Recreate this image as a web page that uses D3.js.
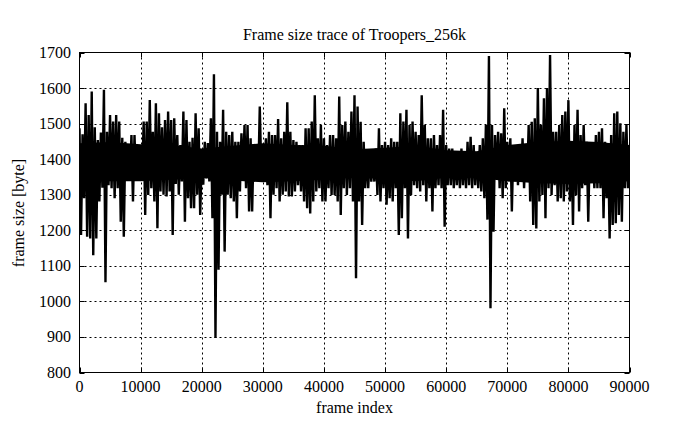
<!DOCTYPE html>
<html>
<head>
<meta charset="utf-8">
<script src="https://cdn.jsdelivr.net/npm/d3@7"></script>
<style>
  html, body { margin: 0; padding: 0; background: #fff; }
  svg { display: block; }
  text { font-family: "Liberation Serif", "DejaVu Serif", serif; fill: #000; }
</style>
</head>
<body>
<svg id="chart" width="695" height="426"></svg>
<script>
// ---- data ----
const title = "Frame size trace of Troopers_256k";
const xLabel = "frame index";
const yLabel = "frame size [byte]";
const xTicks = [0, 10000, 20000, 30000, 40000, 50000, 60000, 70000, 80000, 90000];
const yTicks = [800, 900, 1000, 1100, 1200, 1300, 1400, 1500, 1600, 1700];
const sampleStep = 500; // frames between consecutive envelope samples
// upper envelope of frame size (bytes) per 500-frame sample
const peakHigh = [
  1487,1470,1557,1524,1590,1490,1454,1475,1595,1477,1524,1506,1524,1506,1460,1449,1421,1468,1468,1421,
  1440,1506,1506,1566,1477,1557,1529,1490,1510,1534,1510,1515,1468,1440,1534,1510,1449,1460,1529,1487,
  1400,1449,1445,1515,1639,1477,1449,1539,1477,1468,1477,1449,1449,1473,1496,1496,1459,1440,1400,1548,
  1421,1459,1477,1468,1468,1513,1459,1477,1560,1477,1454,1449,1440,1440,1487,1487,1506,1580,1459,1496,
  1459,1440,1468,1468,1459,1576,1496,1506,1477,1534,1580,1548,1505,1449,1421,1421,1402,1430,1487,1440,
  1449,1440,1459,1449,1449,1529,1506,1539,1496,1506,1477,1468,1580,1496,1459,1459,1468,1440,1468,1539,
  1440,1430,1430,1421,1421,1430,1421,1449,1463,1440,1421,1440,1459,1496,1690,1496,1468,1477,1473,1543,
  1449,1459,1440,1440,1421,1459,1440,1496,1505,1515,1600,1496,1571,1600,1693,1477,1477,1496,1524,1534,
  1566,1449,1496,1539,1468,1496,1449,1430,1421,1468,1477,1487,1449,1440,1468,1529,1534,1501,1477,1496,
  1421
];
// lower envelope of frame size (bytes) per 500-frame sample
const peakLow = [
  1187,1290,1182,1177,1130,1177,1281,1320,1054,1327,1318,1290,1318,1224,1182,1346,1346,1281,1340,1346,
  1346,1243,1299,1318,1281,1206,1309,1300,1295,1309,1187,1330,1300,1337,1224,1290,1262,1262,1300,1243,
  1328,1346,1337,1234,897,1089,1300,1140,1300,1290,1281,1234,1309,1346,1318,1253,1253,1346,1346,1364,
  1355,1327,1234,1300,1318,1281,1300,1309,1295,1295,1309,1327,1309,1281,1262,1247,1281,1309,1318,1281,
  1281,1318,1299,1299,1281,1243,1318,1299,1318,1281,1065,1281,1215,1318,1318,1337,1337,1299,1281,1318,
  1272,1290,1281,1318,1187,1234,1318,1177,1299,1327,1318,1309,1327,1281,1318,1253,1318,1327,1318,1210,
  1327,1327,1318,1327,1318,1327,1318,1327,1318,1327,1318,1309,1290,1230,981,1196,1346,1318,1290,1318,
  1337,1253,1337,1327,1346,1318,1337,1281,1215,1205,1281,1299,1234,1318,1299,1327,1281,1290,1281,1309,
  1281,1215,1299,1253,1318,1327,1224,1337,1318,1318,1318,1234,1290,1177,1215,1220,1243,1224,1318,1318,
  1370
];
// dense core band of the trace (bytes), per 5000 frames
const coreStep = 5000;
const coreHigh = [1445,1448,1442,1440,1430,1438,1445,1440,1438,1428,1432,1438,1425,1422,1440,1448,1452,1448,1440];
const coreLow  = [1335,1338,1338,1342,1348,1340,1335,1338,1342,1348,1345,1338,1348,1348,1338,1332,1330,1332,1338];

// ---- layout ----
const svg = d3.select("#chart");
const x = d3.scaleLinear().domain([0, 90000]).range([79.5, 629.5]);
const y = d3.scaleLinear().domain([800, 1700]).range([372.5, 52.5]);
const [x0, x1] = x.range();
const [y0, y1] = y.range();
const FS = 16;

// grid
const grid = svg.append("g").attr("stroke", "#000").attr("stroke-width", 1)
  .attr("stroke-dasharray", "2,3").attr("fill", "none");
xTicks.slice(1, -1).forEach(t => {
  grid.append("line").attr("x1", Math.round(x(t)) + 0.5).attr("x2", Math.round(x(t)) + 0.5)
    .attr("y1", y1).attr("y2", y0);
});
yTicks.slice(1, -1).forEach(t => {
  grid.append("line").attr("y1", Math.round(y(t)) + 0.5).attr("y2", Math.round(y(t)) + 0.5)
    .attr("x1", x0).attr("x2", x1);
});

svg.append("clipPath").attr("id", "clip").append("rect")
  .attr("x", x0).attr("y", y1).attr("width", x1 - x0).attr("height", y0 - y1);

// core band
svg.append("path")
  .attr("clip-path", "url(#clip)")
  .attr("d", d3.area()
    .x((d, i) => x(i * coreStep))
    .y0((d, i) => y(coreLow[i]))
    .y1(d => y(d))(coreHigh))
  .attr("fill", "#000");

// trace
const pts = [];
peakHigh.forEach((h, i) => {
  pts.push([i * sampleStep, h]);
  if (i < peakLow.length) pts.push([i * sampleStep + sampleStep / 2, peakLow[i]]);
});
svg.append("path")
  .attr("clip-path", "url(#clip)")
  .attr("d", d3.line().x(d => x(Math.min(d[0], 90000))).y(d => y(d[1]))(pts))
  .attr("fill", "none").attr("stroke", "#000").attr("stroke-width", 2.4)
  .attr("stroke-linejoin", "miter").attr("stroke-miterlimit", 2);

// border
svg.append("rect").attr("x", x0).attr("y", y1).attr("width", x1 - x0).attr("height", y0 - y1)
  .attr("fill", "none").attr("stroke", "#000").attr("stroke-width", 1);

// axes with inward ticks (mirrored)
const tickLen = 5;
const ax = svg.append("g").attr("stroke", "#000").attr("stroke-width", 1);
xTicks.forEach(t => {
  const px = Math.round(x(t)) + 0.5;
  ax.append("line").attr("x1", px).attr("x2", px).attr("y1", y0).attr("y2", y0 - tickLen);
  ax.append("line").attr("x1", px).attr("x2", px).attr("y1", y1).attr("y2", y1 + tickLen);
});
yTicks.forEach(t => {
  const py = Math.round(y(t)) + 0.5;
  ax.append("line").attr("y1", py).attr("y2", py).attr("x1", x0).attr("x2", x0 + tickLen);
  ax.append("line").attr("y1", py).attr("y2", py).attr("x1", x1).attr("x2", x1 - tickLen);
});

// tick labels
svg.append("g").selectAll("text").data(xTicks).join("text")
  .attr("x", d => x(d)).attr("y", 392)
  .attr("text-anchor", "middle").attr("font-size", FS)
  .text(d => d);
svg.append("g").selectAll("text").data(yTicks).join("text")
  .attr("x", 71).attr("y", d => y(d) + 5.5)
  .attr("text-anchor", "end").attr("font-size", FS)
  .text(d => d);

// titles
svg.append("text").attr("x", (x0 + x1) / 2).attr("y", 40)
  .attr("text-anchor", "middle").attr("font-size", FS).text(title);
svg.append("text").attr("x", (x0 + x1) / 2).attr("y", 413)
  .attr("text-anchor", "middle").attr("font-size", FS).text(xLabel);
svg.append("text").attr("transform", "translate(24,213) rotate(-90)")
  .attr("text-anchor", "middle").attr("font-size", FS).text(yLabel);
</script>
</body>
</html>
